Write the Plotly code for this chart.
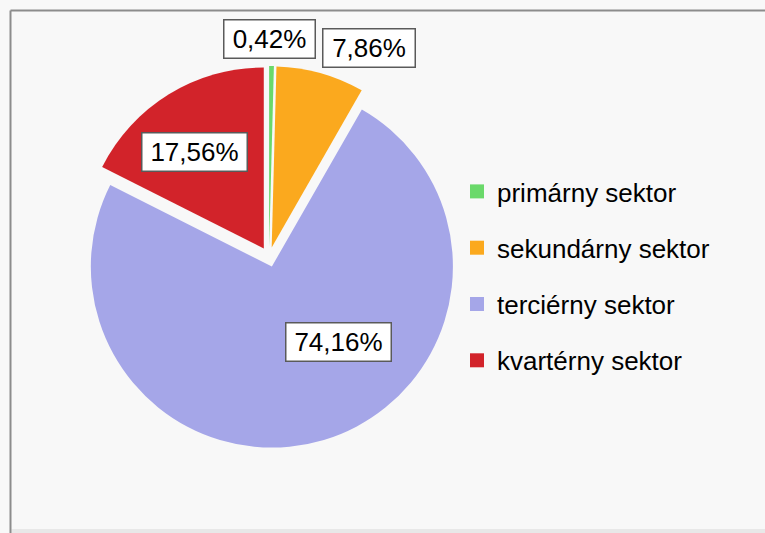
import plotly.graph_objects as go

# ---- data ----
categories = ["primárny sektor", "sekundárny sektor", "terciérny sektor", "kvartérny sektor"]
shares = [0.42, 7.86, 74.16, 17.56]
colors = ["#6ad96a", "#fba91e", "#a5a6e8", "#d2232a"]

W, H = 765, 533
FONT = "Arial, Liberation Sans, Helvetica, sans-serif"

def px(x):
    return x / W

def py(y):
    return 1 - y / H

fig = go.Figure()

# pie (all slices slightly exploded)
cx, cy, half = 269, 257, 191
fig.add_trace(go.Pie(
    labels=categories,
    values=shares,
    sort=False,
    direction="clockwise",
    rotation=0,
    pull=[0.055] * len(shares),
    marker=dict(colors=colors, line=dict(width=0)),
    textinfo="none",
    hoverinfo="label+percent",
    showlegend=False,
    domain=dict(x=[px(cx - half), px(cx + half)], y=[py(cy + half), py(cy - half)]),
))

# legend entries (one per category, spaced with tracegroupgap)
for i, (cat, col) in enumerate(zip(categories, colors)):
    fig.add_trace(go.Scatter(
        x=[None], y=[None], mode="markers", name=cat,
        marker=dict(symbol="square", size=14, color=col),
        legendgroup=f"g{i}", showlegend=True, hoverinfo="skip",
    ))

# boxed percentage labels
label_pos = [(269, 39.5), (368.5, 48), (338, 342), (194, 152)]
box_w = [90, 91, 104, 104]
for v, (lx, ly), bw in zip(shares, label_pos, box_w):
    txt = f"{v:.2f}%".replace(".", ",")
    fig.add_annotation(
        x=px(lx), y=py(ly), xref="paper", yref="paper",
        xanchor="center", yanchor="middle", showarrow=False,
        text=txt, font=dict(family=FONT, size=26, color="#000000"),
        bgcolor="#ffffff", bordercolor="#5a5a5a", borderwidth=1.5, borderpad=0,
        width=bw, height=37,
    )

# frame
fig.add_shape(type="line", xref="paper", yref="paper",
              x0=px(10.5), x1=1, y0=py(10.5), y1=py(10.5),
              line=dict(color="#8c8c8c", width=2), layer="above")
fig.add_shape(type="line", xref="paper", yref="paper",
              x0=px(10.5), x1=px(10.5), y0=py(10.5), y1=0,
              line=dict(color="#8c8c8c", width=2), layer="above")
fig.add_shape(type="rect", xref="paper", yref="paper",
              x0=px(11.5), x1=1, y0=0, y1=py(529),
              line=dict(width=0), fillcolor="#e8e8e8", layer="below")

fig.update_layout(
    width=W, height=H,
    margin=dict(l=0, r=0, t=0, b=0),
    paper_bgcolor="#f8f8f8",
    plot_bgcolor="rgba(0,0,0,0)",
    xaxis=dict(visible=False),
    yaxis=dict(visible=False),
    showlegend=True,
    legend=dict(
        x=px(457), y=py(168), xanchor="left", yanchor="top",
        font=dict(family=FONT, size=26, color="#000000"),
        bgcolor="rgba(0,0,0,0)", borderwidth=0,
        traceorder="grouped", tracegroupgap=19.5,
        itemsizing="trace",
    ),
)

fig.write_html(
    "out.html",
    config={"displayModeBar": False},
    post_script="document.body.style.margin='0';document.body.style.overflow='hidden';",
)
